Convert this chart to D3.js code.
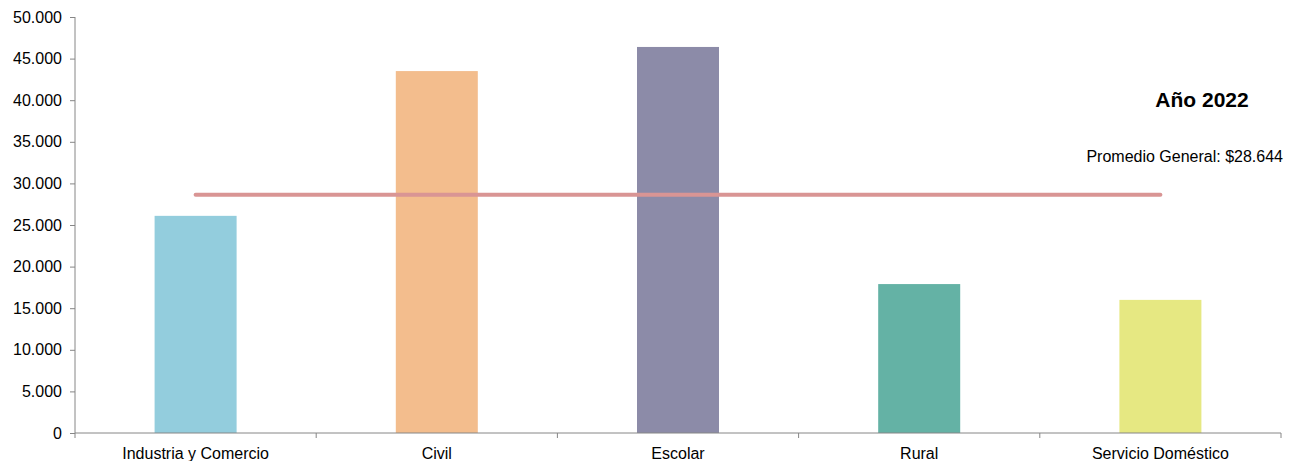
<!DOCTYPE html>
<html><head><meta charset="utf-8">
<script src="https://cdn.jsdelivr.net/npm/d3@7"></script>
<style>body{margin:0;background:#fff;font-family:"Liberation Sans",Arial,sans-serif;}</style>
</head><body>
<svg id="c" width="1291" height="461"></svg>
<script>
const categories = ["Industria y Comercio","Civil","Escolar","Rural","Servicio Doméstico"];
const values = [26100, 43500, 46400, 17900, 16000];
const colors = ["#93CDDD","#F3BD8D","#8C8BA8","#64B2A5","#E6E882"];
const yTicks = [0,5000,10000,15000,20000,25000,30000,35000,40000,45000,50000];
const average = 28644;
const title = "Año 2022";
const avgLabel = "Promedio General: $28.644";

const svg = d3.select("#c");
const m = {left:75, right:1281, top:17, bottom:433};
const x = d3.scaleBand().domain(categories).range([m.left, m.right]).paddingInner(0).paddingOuter(0);
const y = d3.scaleLinear().domain([0,50000]).range([m.bottom, m.top]);
const fmt = d => d3.format(",")(d).replace(/,/g, ".");
const bw = x.bandwidth()*0.34;
const FS = "16px";

svg.selectAll("rect.bar").data(categories).join("rect")
  .attr("x", d => x(d)+x.bandwidth()/2-bw/2)
  .attr("y", (d,i) => y(values[i]))
  .attr("width", bw)
  .attr("height", (d,i) => y(0)-y(values[i]))
  .attr("fill", (d,i) => colors[i]);

// y axis
const ya = svg.append("g").attr("transform",`translate(${m.left},0)`)
  .call(d3.axisLeft(y).tickValues(yTicks).tickFormat(fmt).tickSize(5).tickPadding(8));
ya.select(".domain").attr("stroke","#868686").attr("d",`M-0,${m.top}H0V${m.bottom}`);
ya.selectAll(".tick line").attr("stroke","#868686");
ya.selectAll("text").attr("font-size",FS).attr("fill","#000").attr("font-family","Liberation Sans, Arial, sans-serif");

// x axis
const xa = svg.append("g").attr("transform",`translate(0,${m.bottom})`)
  .call(d3.axisBottom(x).tickSize(0).tickPadding(15));
xa.select(".domain").attr("stroke","#868686").attr("d",`M${m.left},0H${m.right}`);
xa.selectAll("text").attr("font-size",FS).attr("fill","#000").attr("font-family","Liberation Sans, Arial, sans-serif");
const bounds = categories.map(c => x(c)).concat([m.right]);
svg.append("g").selectAll("line").data(bounds).join("line")
  .attr("x1", d=>d).attr("x2", d=>d).attr("y1", m.bottom).attr("y2", m.bottom+5)
  .attr("stroke","#868686");

// average line
const c0 = x(categories[0])+x.bandwidth()/2, c1 = x(categories[categories.length-1])+x.bandwidth()/2;
svg.append("line").attr("x1",c0).attr("x2",c1).attr("y1",y(average)).attr("y2",y(average))
  .attr("stroke","#D99594").attr("stroke-width",4).attr("stroke-linecap","round");

svg.append("text").attr("x",1202).attr("y",107).attr("text-anchor","middle")
  .attr("font-size","21px").attr("font-weight","bold").text(title);
svg.append("text").attr("x",1283).attr("y",162).attr("text-anchor","end")
  .attr("font-size",FS).text(avgLabel);
</script>
</body></html>
